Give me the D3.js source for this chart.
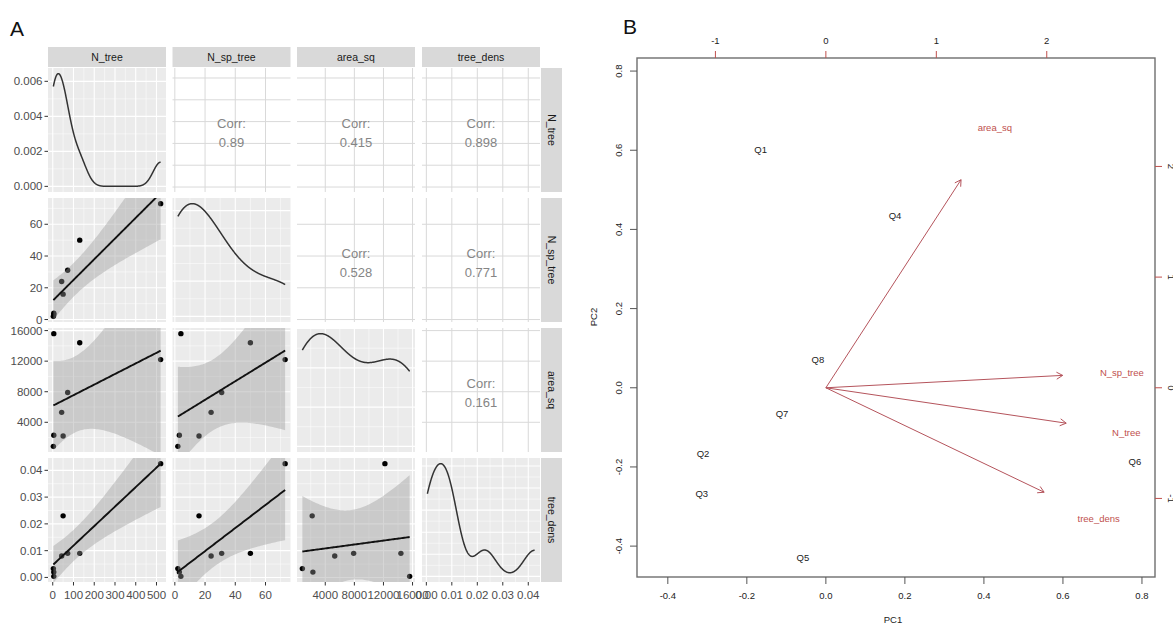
<!DOCTYPE html>
<html><head><meta charset="utf-8">
<script src="https://cdn.jsdelivr.net/npm/d3@7"></script>
<style>body{margin:0;background:#fff;} svg{display:block;font-family:"Liberation Sans",Arial,sans-serif;}</style>
</head><body><svg id="c" width="1173" height="626"></svg>
<script>
// ---------------- DATA ----------------
const sites = ["Q1","Q2","Q3","Q4","Q5","Q6","Q7","Q8"];
const varNames = ["N_tree","N_sp_tree","area_sq","tree_dens"];
const N_tree    = [5, 5, 3, 130, 50, 520, 43, 72];
const N_sp_tree = [4, 3, 2, 50, 16, 73, 24, 31];
const area_sq   = [15600, 2300, 850, 14400, 2200, 12200, 5300, 7900];
const tree_dens = [0.0004, 0.002, 0.0033, 0.009, 0.023, 0.0425, 0.008, 0.009];
// correlation labels for upper panels, order (1,2),(1,3),(1,4),(2,3),(2,4),(3,4)
const corrLabels = ["0.89", "0.415", "0.898", "0.528", "0.771", "0.161"];
// tick values / labels
const ticksN_tree = [0,100,200,300,400,500];
const ticksN_sp   = [0,20,40,60];
const ticksArea   = [4000,8000,12000,16000];
const ticksDens   = [0,0.01,0.02,0.03,0.04];
const labelsDens  = ["0.00","0.01","0.02","0.03","0.04"];
const ticksDiag1  = [0,0.002,0.004,0.006];
const labelsDiag1 = ["0.000","0.002","0.004","0.006"];
// PCA biplot (panel B)
const pc1 = [-0.165, -0.311, -0.314, 0.175, -0.058, 0.782, -0.111, -0.020];
const pc2 = [0.603, -0.167, -0.266, 0.435, -0.430, -0.187, -0.066, 0.071];
const loadNames = ["N_tree","N_sp_tree","area_sq","tree_dens"];
const load1 = [2.72, 2.68, 1.53, 2.47];
const load2 = [-0.40, 0.14, 2.35, -1.18];
const pcLim = [-0.478, 0.833];
const loadLim = [-1.71, 2.98];
const pcTicks = [-0.4,-0.2,0,0.2,0.4,0.6,0.8];
const pcTickLabels = ["-0.4","-0.2","0.0","0.2","0.4","0.6","0.8"];
const loadTicks = [-1,0,1,2];
const loadTickLabels = ["-1","0","1","2"];

// --------------- helpers ----------------
const svg = d3.select("#c");
const vars = [N_tree, N_sp_tree, area_sq, tree_dens];
const vTicks = [ticksN_tree, ticksN_sp, ticksArea, ticksDens];
const vLabels = [ticksN_tree.map(String), ticksN_sp.map(String), ticksArea.map(String), labelsDens];
const colX = [48, 172.5, 297, 422], W = 118;
const rowY = [68, 198, 328, 458], H = 124;
const PANEL_BG = "#ebebeb";
const TICK_COL = "#4d4d4d";
const AXFS = 11.5;

function expand(ext, f){ const d = ext[1]-ext[0]; return [ext[0]-f*d, ext[1]+f*d]; }
const xS = vars.map((v,i)=>d3.scaleLinear().domain(expand(d3.extent(v),0.05)).range([colX[i], colX[i]+W]));
const yS = vars.map((v,i)=>d3.scaleLinear().domain(expand(d3.extent(v),0.05)).range([rowY[i]+H, rowY[i]]));

function minors(majors, dom){
  const step = majors[1]-majors[0];
  const out = [];
  for(let k=-1;k<majors.length;k++){
    const m = (k<0? majors[0]-step/2 : majors[k]+step/2);
    if(m>=dom[0] && m<=dom[1]) out.push(m);
  }
  return out;
}
function inDom(ts, dom){ return ts.filter(t=>t>=Math.min(...dom) && t<=Math.max(...dom)); }

function kde(vals){
  const n = vals.length;
  const sd = d3.deviation(vals);
  const iqr = (d3.quantile(vals,0.75)-d3.quantile(vals,0.25))/1.34;
  const bw = 0.9*Math.min(sd,iqr)*Math.pow(n,-0.2);
  const [lo,hi] = d3.extent(vals);
  return d3.range(512).map(i=>{
    const x = lo+(hi-lo)*i/511;
    const y = d3.sum(vals, v=>Math.exp(-0.5*((x-v)/bw)**2))/(n*bw*Math.sqrt(2*Math.PI));
    return [x,y];
  });
}
const T975 = 2.446912; // t quantile, df = 6
function lmFit(xs, ys){
  const n = xs.length, xb = d3.mean(xs), yb = d3.mean(ys);
  let sxx=0, sxy=0;
  xs.forEach((x,i)=>{ sxx+=(x-xb)**2; sxy+=(x-xb)*(ys[i]-yb); });
  const b = sxy/sxx, a = yb-b*xb;
  const rss = d3.sum(xs, (x,i)=>(ys[i]-a-b*x)**2);
  const s = Math.sqrt(rss/(n-2));
  const [lo,hi] = d3.extent(xs);
  return d3.range(80).map(i=>{
    const x = lo+(hi-lo)*i/79, f = a+b*x;
    const se = s*Math.sqrt(1/n+(x-xb)**2/sxx);
    return {x, f, lo: f-T975*se, hi: f+T975*se};
  });
}

const defs = svg.append("defs");
const gA = svg.append("g");

// strip labels (top)
varNames.forEach((nm,i)=>{
  gA.append("rect").attr("x",colX[i]).attr("y",47).attr("width",W).attr("height",20).attr("fill","#d9d9d9");
  gA.append("text").attr("x",colX[i]+W/2).attr("y",61).attr("text-anchor","middle")
    .attr("font-size",10.5).attr("fill","#1a1a1a").text(nm);
});
// strip labels (right)
varNames.forEach((nm,j)=>{
  gA.append("rect").attr("x",541).attr("y",rowY[j]).attr("width",21).attr("height",H).attr("fill","#d9d9d9");
  gA.append("text").attr("transform",`translate(548,${rowY[j]+H/2}) rotate(90)`).attr("text-anchor","middle")
    .attr("font-size",10.5).attr("fill","#1a1a1a").text(nm);
});

const diagScale = [];
let ci = 0;
for(let r=0;r<4;r++){
  for(let c=0;c<4;c++){
    const x0 = colX[c], y0 = rowY[r];
    const g = gA.append("g");
    const cid = `clip${r}${c}`;
    defs.append("clipPath").attr("id",cid).append("rect").attr("x",x0).attr("y",y0).attr("width",W).attr("height",H);
    const xs = xS[c];
    if(r<c){
      const ys = yS[r];
      g.append("rect").attr("x",x0).attr("y",y0).attr("width",W).attr("height",H).attr("fill","#fff");
      inDom(vTicks[c], xs.domain()).forEach(t=>g.append("line").attr("x1",xs(t)).attr("x2",xs(t)).attr("y1",y0).attr("y2",y0+H).attr("stroke","#d9d9d9").attr("stroke-width",1));
      inDom(vTicks[r], ys.domain()).forEach(t=>g.append("line").attr("y1",ys(t)).attr("y2",ys(t)).attr("x1",x0).attr("x2",x0+W).attr("stroke","#d9d9d9").attr("stroke-width",1));
      const cx = x0+W/2, cy = y0+H/2;
      g.append("text").attr("x",cx).attr("y",cy-2).attr("text-anchor","middle").attr("font-size",13).attr("fill","#858585").text("Corr:");
      g.append("text").attr("x",cx).attr("y",cy+17).attr("text-anchor","middle").attr("font-size",13).attr("fill","#858585").text(corrLabels[ci++]);
    } else {
      let ys, yt;
      let dens = null;
      if(r===c){
        dens = kde(vars[c]);
        const mx = d3.max(dens, d=>d[1]);
        ys = d3.scaleLinear().domain(expand([0,mx],0.05)).range([y0+H, y0]);
        yt = (r===0) ? ticksDiag1 : ys.ticks(4);
        diagScale[r] = ys;
      } else {
        ys = yS[r]; yt = vTicks[r];
      }
      g.append("rect").attr("x",x0).attr("y",y0).attr("width",W).attr("height",H).attr("fill",PANEL_BG);
      minors(vTicks[c], xs.domain()).forEach(t=>g.append("line").attr("x1",xs(t)).attr("x2",xs(t)).attr("y1",y0).attr("y2",y0+H).attr("stroke","#fff").attr("stroke-width",0.5));
      minors(yt, ys.domain()).forEach(t=>g.append("line").attr("y1",ys(t)).attr("y2",ys(t)).attr("x1",x0).attr("x2",x0+W).attr("stroke","#fff").attr("stroke-width",0.5));
      inDom(vTicks[c], xs.domain()).forEach(t=>g.append("line").attr("x1",xs(t)).attr("x2",xs(t)).attr("y1",y0).attr("y2",y0+H).attr("stroke","#fff").attr("stroke-width",1.1));
      inDom(yt, ys.domain()).forEach(t=>g.append("line").attr("y1",ys(t)).attr("y2",ys(t)).attr("x1",x0).attr("x2",x0+W).attr("stroke","#fff").attr("stroke-width",1.1));
      const gc = g.append("g").attr("clip-path",`url(#${cid})`);
      if(dens){
        gc.append("path").attr("d", d3.line().x(d=>xs(d[0])).y(d=>ys(d[1]))(dens))
          .attr("fill","none").attr("stroke","#333").attr("stroke-width",1.5);
      } else {
        const fit = lmFit(vars[c], vars[r]);
        vars[c].forEach((v,i)=>gc.append("circle").attr("cx",xs(v)).attr("cy",ys(vars[r][i])).attr("r",2.7).attr("fill","#000"));
        gc.append("path").attr("d", d3.area().x(d=>xs(d.x)).y0(d=>ys(d.lo)).y1(d=>ys(d.hi))(fit))
          .attr("fill","#999").attr("fill-opacity",0.4);
        gc.append("path").attr("d", d3.line().x(d=>xs(d.x)).y(d=>ys(d.f))(fit))
          .attr("fill","none").attr("stroke","#111").attr("stroke-width",1.9);
      }
    }
  }
}

// left axes
for(let r=0;r<4;r++){
  const ys = r===0 ? diagScale[0] : yS[r];
  const ts = r===0 ? ticksDiag1 : vTicks[r];
  const ls = r===0 ? labelsDiag1 : vLabels[r];
  ts.forEach((t,i)=>{
    const y = ys(t);
    if(y<rowY[r]-1 || y>rowY[r]+H+1) return;
    gA.append("line").attr("x1",44.5).attr("x2",48).attr("y1",y).attr("y2",y).attr("stroke","#333").attr("stroke-width",1);
    gA.append("text").attr("x",42.5).attr("y",y+4).attr("text-anchor","end").attr("font-size",AXFS).attr("fill",TICK_COL).text(ls[i]);
  });
}
// bottom axes
for(let c=0;c<4;c++){
  const xs = xS[c];
  vTicks[c].forEach((t,i)=>{
    const x = xs(t);
    if(x<colX[c]-1 || x>colX[c]+W+1) return;
    gA.append("line").attr("x1",x).attr("x2",x).attr("y1",582).attr("y2",585.5).attr("stroke","#333").attr("stroke-width",1);
    gA.append("text").attr("x",x).attr("y",599).attr("text-anchor","middle").attr("font-size",AXFS).attr("fill",TICK_COL).text(vLabels[c][i]);
  });
}
gA.append("text").attr("x",10).attr("y",36).attr("font-size",21).attr("fill","#111").text("A");

// ---------------- Panel B ----------------
const gB = svg.append("g");
const bx = d3.scaleLinear().domain(pcLim).range([637,1155]);
const by = d3.scaleLinear().domain(pcLim).range([577,58]);
const lx = d3.scaleLinear().domain(loadLim).range([637,1155]);
const ly = d3.scaleLinear().domain(loadLim).range([577,58]);
const RED = "#c0504d", ARROW = "#b5545c";
const BFS = 9.5;

gB.append("text").attr("x",623).attr("y",34).attr("font-size",21).attr("fill","#111").text("B");
gB.append("rect").attr("x",637).attr("y",58).attr("width",518).attr("height",519).attr("fill","none").attr("stroke","#6e6e6e").attr("stroke-width",1.4);
pcTicks.forEach((t,i)=>{
  gB.append("line").attr("x1",bx(t)).attr("x2",bx(t)).attr("y1",577).attr("y2",584).attr("stroke","#555");
  gB.append("text").attr("x",bx(t)).attr("y",599).attr("text-anchor","middle").attr("font-size",BFS).attr("fill","#222").text(pcTickLabels[i]);
});
pcTicks.forEach((t,i)=>{
  gB.append("line").attr("x1",630).attr("x2",637).attr("y1",by(t)).attr("y2",by(t)).attr("stroke","#555");
  gB.append("text").attr("transform",`translate(622,${by(t)}) rotate(-90)`).attr("text-anchor","middle").attr("font-size",BFS).attr("fill","#222").text(pcTickLabels[i]);
});
loadTicks.forEach((t,i)=>{
  gB.append("line").attr("x1",lx(t)).attr("x2",lx(t)).attr("y1",51).attr("y2",58).attr("stroke",RED);
  gB.append("text").attr("x",lx(t)).attr("y",44).attr("text-anchor","middle").attr("font-size",BFS).attr("fill","#222").text(loadTickLabels[i]);
});
loadTicks.forEach((t,i)=>{
  gB.append("line").attr("x1",1155).attr("x2",1162).attr("y1",ly(t)).attr("y2",ly(t)).attr("stroke",RED);
  gB.append("text").attr("transform",`translate(1168,${ly(t)}) rotate(90)`).attr("text-anchor","middle").attr("font-size",BFS).attr("fill","#222").text(loadTickLabels[i]);
});
gB.append("text").attr("x",893).attr("y",623).attr("text-anchor","middle").attr("font-size",BFS).attr("fill","#222").text("PC1");
gB.append("text").attr("transform","translate(597,317) rotate(-90)").attr("text-anchor","middle").attr("font-size",BFS).attr("fill","#222").text("PC2");

sites.forEach((s,i)=>{
  gB.append("text").attr("x",bx(pc1[i])).attr("y",by(pc2[i])+3.5).attr("text-anchor","middle").attr("font-size",BFS).attr("fill","#222").text(s);
});
loadNames.forEach((nm,i)=>{
  const x1 = lx(0), y1 = ly(0), x2 = lx(load1[i]*0.8), y2 = ly(load2[i]*0.8);
  gB.append("line").attr("x1",x1).attr("y1",y1).attr("x2",x2).attr("y2",y2).attr("stroke",ARROW).attr("stroke-width",1);
  const th = Math.atan2(y2-y1, x2-x1), L = 7, a = Math.PI/6;
  const p = [[x2-L*Math.cos(th-a), y2-L*Math.sin(th-a)],[x2,y2],[x2-L*Math.cos(th+a), y2-L*Math.sin(th+a)]];
  gB.append("path").attr("d", d3.line()(p)).attr("fill","none").attr("stroke",ARROW).attr("stroke-width",1);
  gB.append("text").attr("x",lx(load1[i])).attr("y",ly(load2[i])+3.5).attr("text-anchor","middle").attr("font-size",BFS).attr("fill",RED).text(nm);
});
</script></body></html>
